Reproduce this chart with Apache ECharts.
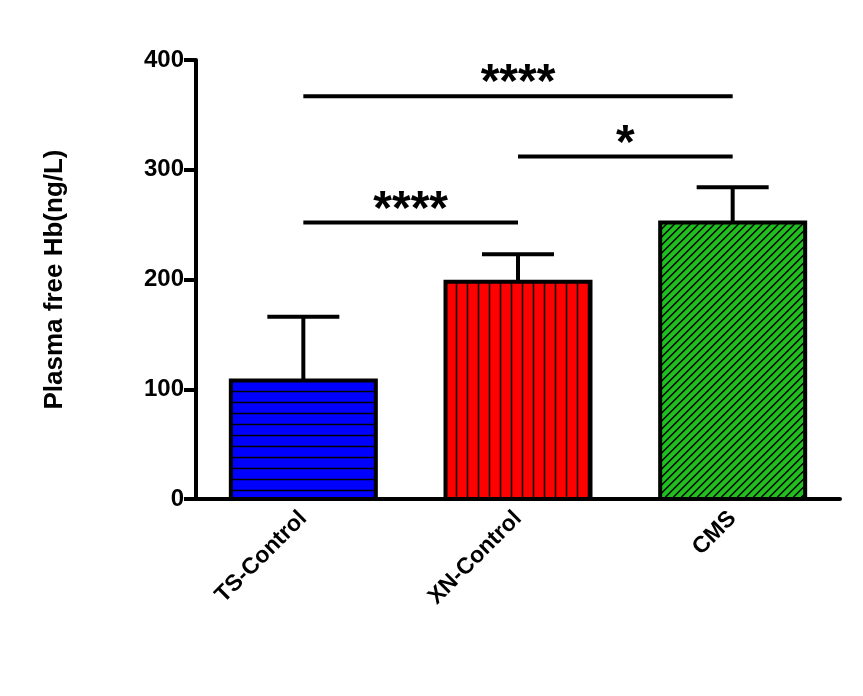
<!DOCTYPE html>
<html><head><meta charset="utf-8">
<script src="https://cdn.jsdelivr.net/npm/echarts@6/dist/echarts.min.js"></script>
<style>html,body{margin:0;padding:0;background:#fff}#c{width:863px;height:696px}</style>
</head><body><div id="c"></div>
<script>
const categories = ['TS-Control','XN-Control','CMS'];
const means = [108, 198, 252];
const errTops = [166, 223, 284];
const colors = ['#0000ff','#ff0000','#1fbf1f'];
const patterns = ['h','v','d'];
const sigFrom = [0, 1, 0];
const sigTo = [1, 2, 2];
const sigY = [252, 312, 367];
const sigLabel = ['****', '*', '****'];

const chart = echarts.init(document.getElementById('c'));
const barW = 145;
function renderBar(params, api){
  const i = api.value(0);
  const top = api.coord([i, api.value(1)]);
  const base = api.coord([i, 0]);
  const x0 = top[0]-barW/2, x1 = top[0]+barW/2, y0 = top[1], y1 = base[1];
  const ch = [];
  ch.push({type:'rect', shape:{x:x0,y:y0,width:barW,height:y1-y0}, style:{fill:colors[i]}});
  const ls = {stroke:'#000', lineWidth:1.5};
  const p = patterns[i];
  if(p==='h'){ for(let y=y0+11;y<y1;y+=11) ch.push({type:'line',shape:{x1:x0,y1:y,x2:x1,y2:y},style:ls}); }
  else if(p==='v'){ for(let x=x0+11;x<x1;x+=11) ch.push({type:'line',shape:{x1:x,y1:y0,x2:x,y2:y1},style:ls}); }
  else { for(let c=x0+y0+8;c<x1+y1;c+=8){ const xs=Math.max(x0,c-y1), xe=Math.min(x1,c-y0); if(xe>xs) ch.push({type:'line',shape:{x1:xs,y1:c-xs,x2:xe,y2:c-xe},style:ls}); } }
  ch.push({type:'rect', shape:{x:x0,y:y0,width:barW,height:y1-y0}, style:{fill:'none',stroke:'#000',lineWidth:4}});
  const et = api.coord([i, api.value(2)]);
  ch.push({type:'line',shape:{x1:top[0],y1:y0,x2:top[0],y2:et[1]},style:{stroke:'#000',lineWidth:4}});
  ch.push({type:'line',shape:{x1:top[0]-36,y1:et[1],x2:top[0]+36,y2:et[1]},style:{stroke:'#000',lineWidth:4}});
  return {type:'group', children:ch};
}
function renderSig(params, api){
  const a = api.coord([api.value(0), api.value(2)]);
  const b = api.coord([api.value(1), api.value(2)]);
  return {type:'group', children:[
    {type:'line',shape:{x1:a[0],y1:a[1],x2:b[0],y2:b[1]},style:{stroke:'#000',lineWidth:4}},
    {type:'text',x:(a[0]+b[0])/2,y:a[1]+12,style:{text:sigLabel[params.dataIndex],fill:'#000',font:'bold 48px Arial, "Liberation Sans", sans-serif',align:'center',verticalAlign:'bottom'}}
  ]};
}
chart.setOption({
  animation:false,
  grid:{left:196,right:23,top:60,bottom:197},
  xAxis:{type:'category',data:categories,
    axisLine:{lineStyle:{color:'#000',width:4}},
    axisTick:{alignWithLabel:true,length:12,lineStyle:{width:4,color:'#000'}},
    axisLabel:{rotate:45,color:'#000',fontSize:23,fontWeight:'bold',fontFamily:'Arial, "Liberation Sans", sans-serif',margin:16}},
  yAxis:{type:'value',min:0,max:400,interval:100,
    name:'Plasma free Hb(ng/L)',nameLocation:'middle',nameGap:128,
    nameTextStyle:{color:'#000',fontSize:26,fontWeight:'bold',fontFamily:'Arial, "Liberation Sans", sans-serif'},
    axisLine:{show:true,lineStyle:{color:'#000',width:4}},
    axisTick:{show:true,length:12,lineStyle:{width:4,color:'#000'}},
    splitLine:{show:false},
    axisLabel:{color:'#000',fontSize:24,fontWeight:'bold',fontFamily:'Arial, "Liberation Sans", sans-serif',margin:12}},
  series:[
    {type:'custom',renderItem:renderBar,data:categories.map((c,i)=>[i,means[i],errTops[i]]),clip:false},
    {type:'custom',renderItem:renderSig,data:sigY.map((y,i)=>[sigFrom[i],sigTo[i],y]),clip:false}
  ]
});
</script></body></html>
